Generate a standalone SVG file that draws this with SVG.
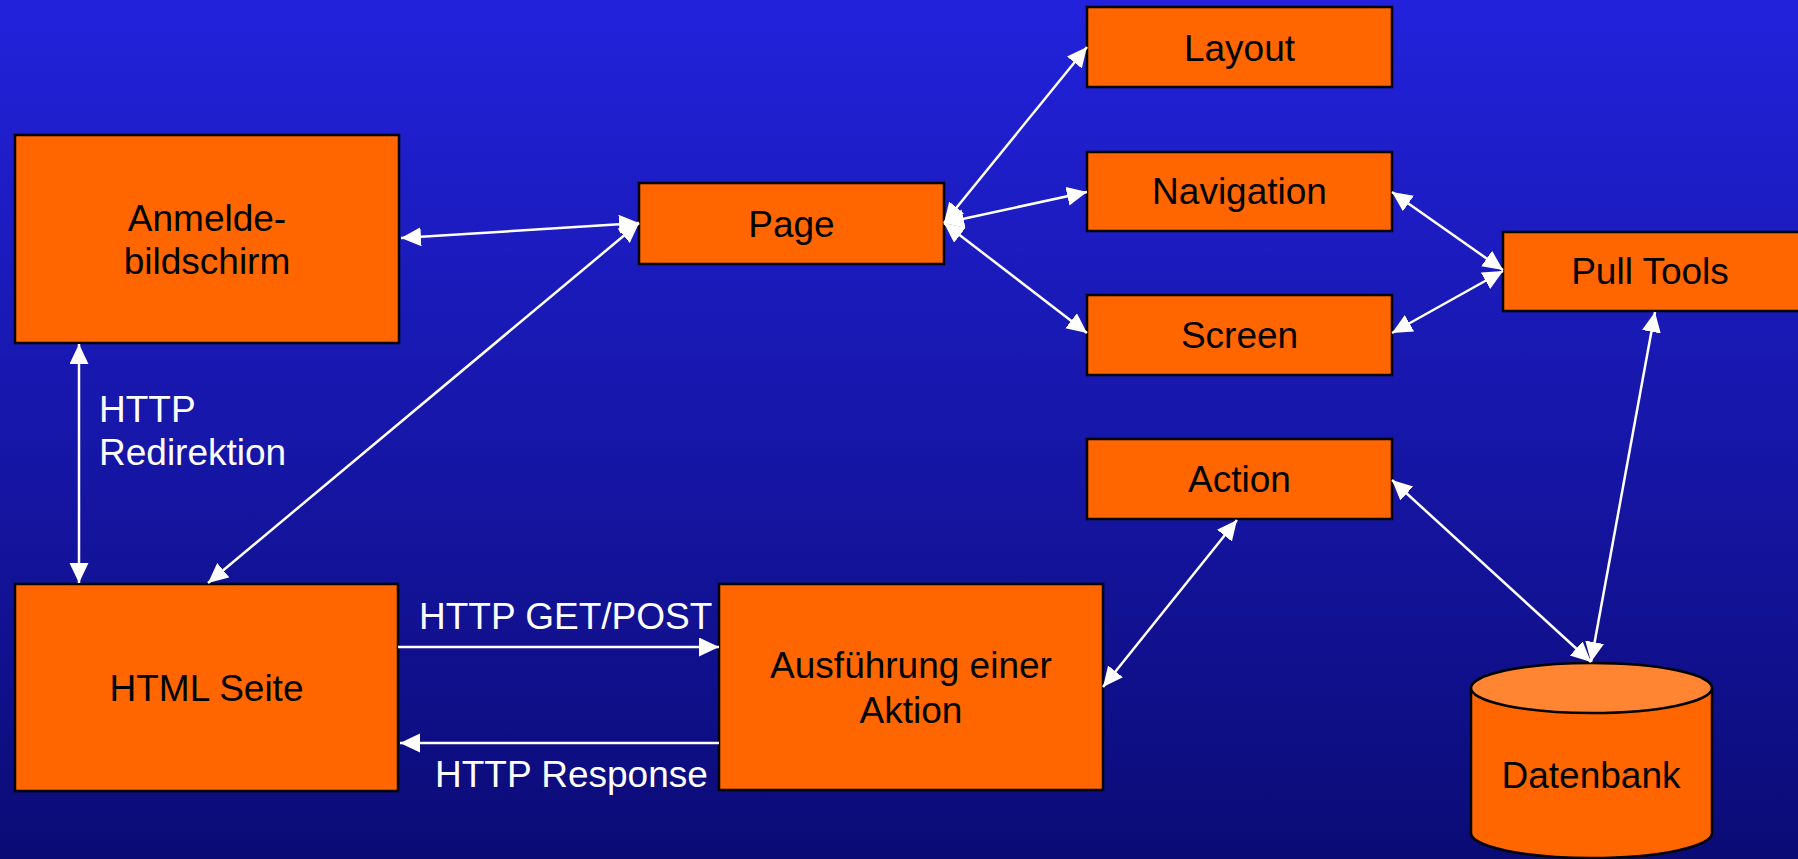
<svg xmlns="http://www.w3.org/2000/svg" width="1798" height="859" viewBox="0 0 1798 859">
<defs>
<linearGradient id="bg" x1="0" y1="0" x2="0" y2="1">
<stop offset="0" stop-color="#2222dc"/>
<stop offset="1" stop-color="#0b0b76"/>
</linearGradient>
<marker id="ah" markerUnits="userSpaceOnUse" markerWidth="22" markerHeight="20" refX="20" refY="9.5" orient="auto-start-reverse" viewBox="0 0 22 20">
<path d="M0,0 L20,9.5 L0,19 z" fill="#ffffff"/>
</marker>
<style>
.box{fill:#ff6600;stroke:#000;stroke-width:2.5}
.t{font-family:"Liberation Sans",Arial,sans-serif;font-size:37px;fill:#000;text-anchor:middle}
.lbl{font-family:"Liberation Sans",Arial,sans-serif;font-size:37px;fill:#fff}
.c{stroke:#fff;stroke-width:2.5;fill:none}
.b{marker-start:url(#ah);marker-end:url(#ah)}
.e{marker-end:url(#ah)}
</style>
</defs>
<rect width="1798" height="859" fill="url(#bg)"/>
<g id="anmelde"><rect class="box" x="15" y="135" width="384" height="208"/><text class="t" x="207" y="231">Anmelde-</text><text class="t" x="207" y="274">bildschirm</text></g>
<g id="page"><rect class="box" x="639" y="183" width="305" height="81"/><text class="t" x="791.5" y="237">Page</text></g>
<g id="layout"><rect class="box" x="1087" y="7" width="305" height="80"/><text class="t" x="1239.5" y="61">Layout</text></g>
<g id="navigation"><rect class="box" x="1087" y="152" width="305" height="79"/><text class="t" x="1239.5" y="204">Navigation</text></g>
<g id="screen"><rect class="box" x="1087" y="295" width="305" height="80"/><text class="t" x="1239.5" y="348">Screen</text></g>
<g id="pulltools"><rect class="box" x="1503" y="232" width="305" height="79"/><text class="t" x="1650" y="284">Pull Tools</text></g>
<g id="action"><rect class="box" x="1087" y="439" width="305" height="80"/><text class="t" x="1239.5" y="492">Action</text></g>
<g id="htmlseite"><rect class="box" x="15" y="584" width="383" height="207"/><text class="t" x="206.5" y="701">HTML Seite</text></g>
<g id="ausfuehrung"><rect class="box" x="719" y="584" width="384" height="206"/><text class="t" x="911" y="678">Ausführung einer</text><text class="t" x="911" y="723">Aktion</text></g>
<g id="datenbank">
<path d="M1471,688 L1471,833 A120.5,25 0 0 0 1712,833 L1712,688" fill="#ff6600" stroke="#000" stroke-width="2.5"/>
<ellipse cx="1591.5" cy="688" rx="120.5" ry="25" fill="#ff8533" stroke="#000" stroke-width="2.5"/>
<text class="t" x="1591" y="788">Datenbank</text>
</g>
<g id="connectors">
<line class="c b" x1="401" y1="238" x2="639" y2="223"/>
<line class="c b" x1="79" y1="344" x2="79" y2="583"/>
<line class="c b" x1="639" y1="223" x2="208" y2="583"/>
<line class="c b" x1="944" y1="223" x2="1087" y2="47"/>
<line class="c b" x1="944" y1="223" x2="1087" y2="192"/>
<line class="c b" x1="944" y1="223" x2="1087" y2="333"/>
<line class="c b" x1="1392" y1="192" x2="1503" y2="270"/>
<line class="c b" x1="1392" y1="333" x2="1503" y2="271"/>
<line class="c e" x1="398" y1="647" x2="719" y2="647"/>
<line class="c e" x1="719" y1="743" x2="400" y2="743"/>
<line class="c b" x1="1237" y1="520" x2="1103" y2="687"/>
<line class="c b" x1="1392" y1="480" x2="1591" y2="662"/>
<line class="c b" x1="1655" y1="312" x2="1591" y2="662"/>
<text class="lbl" x="99" y="422">HTTP</text>
<text class="lbl" x="99" y="465">Redirektion</text>
<text class="lbl" x="419" y="629">HTTP GET/POST</text>
<text class="lbl" x="435" y="787">HTTP Response</text>
</g>
</svg>
